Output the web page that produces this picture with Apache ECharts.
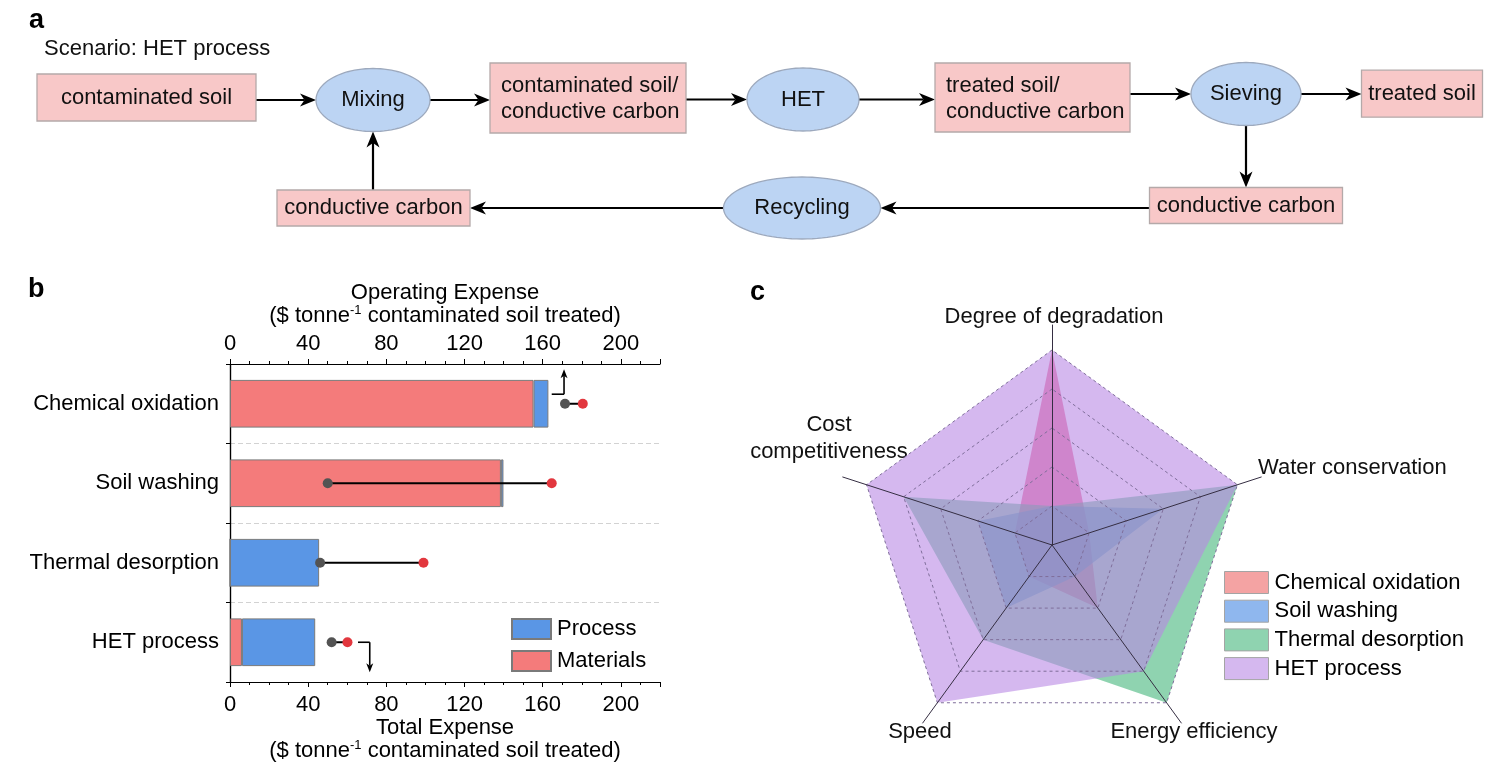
<!DOCTYPE html>
<html><head><meta charset="utf-8">
<script src="https://cdn.jsdelivr.net/npm/echarts@6/dist/echarts.min.js"></script>
<style>html,body{margin:0;padding:0;background:#fff}#c{width:1501px;height:766px}</style>
</head><body><div id="c"></div>
<script>
const FONT = '"Liberation Sans", Arial, Helvetica, sans-serif';

// ---------- Panel a : process flow ----------
const scenarioTitle = 'Scenario: HET process';
const flowLabels = ['contaminated soil', 'Mixing', 'contaminated soil/\nconductive carbon', 'HET',
  'treated soil/\nconductive carbon', 'Sieving', 'treated soil', 'conductive carbon', 'Recycling', 'conductive carbon'];
const flowKinds = ['material', 'step', 'material', 'step', 'material', 'step', 'material', 'material', 'step', 'material'];
const flowLinks = [[0, 1], [1, 2], [2, 3], [3, 4], [4, 5], [5, 6], [5, 7], [7, 8], [8, 9], [9, 1]];
// diagram layout: centre x, centre y, width, height (diagram units)
const flowLayout = [
  [146.5, 97.5, 219, 47], [373, 100, 114, 63], [588, 98, 196, 70], [803, 99.5, 112, 63],
  [1032.5, 97.5, 195, 69], [1246, 94, 110, 63], [1422, 93.7, 121, 47], [1246, 205.5, 193, 36],
  [802, 208, 157, 62], [373.5, 208, 193, 36]
];

// ---------- Panel b : costs ----------
const costCategories = ['Chemical oxidation', 'Soil washing', 'Thermal desorption', 'HET process'];
const materialsCost = [155.3, 138.6, 0, 6.1];
const processCost = [7.6, 1.3, 45.6, 37.5];
const opexLow = [171.4, 50.0, 46.1, 52.0];
const opexHigh = [180.5, 164.6, 99.0, 60.1];
const xTicks = { min: 0, max: 220, interval: 40 };
// off-scale notes: category index, start value, end value
const noteArrows = [[0, 164.6, 170.9], [3, 65.5, 71.5]];

// ---------- Panel c : radar ----------
const radarAxes = ['Degree of degradation', 'Cost competitiveness', 'Speed', 'Energy efficiency', 'Water conservation'];
const radarMax = 5;
const radarNames = ['Chemical oxidation', 'Soil washing', 'Thermal desorption', 'HET process'];
const radarChem = [5, 1, 1, 2, 1];
const radarSoil = [1, 2, 2, 1, 3];
const radarThermal = [1, 4, 3, 5, 5];
const radarHET = [5, 5, 5, 4, 5];

// ---------- styles ----------
const radarBase = ['#E9568C', '#3F7FE0', '#44B67B', '#B989E4'];
const radarOpacity = [0.75, 0.62, 0.6, 0.6];
const radarSwatch = ['#F4A3A3', '#8FB7EE', '#8FD3B0', '#D5B8EF'];
const noteLayout = [[-0.12, -0.434], [0.0, 0.377]]; // horizontal offset, vertical end (fraction of band)

function flowArrow(link) {
  const a = flowLayout[link[0]], b = flowLayout[link[1]];
  const st = flowKinds[link[0]] === 'step' ? a : b;
  const dx = b[0] - a[0], dy = b[1] - a[1];
  if (Math.abs(dx) > Math.abs(dy)) {
    const s = Math.sign(dx);
    return [a[0] + s * a[2] / 2, st[1], b[0] - s * b[2] / 2, st[1]];
  }
  const s = Math.sign(dy);
  return [st[0], a[1] + s * a[3] / 2, st[0], b[1] - s * b[3] / 2];
}

function arrowGroup(p0, p1, L, W, lw) {
  const dx = p1[0] - p0[0], dy = p1[1] - p0[1];
  const len = Math.sqrt(dx * dx + dy * dy);
  const ux = dx / len, uy = dy / len, px = -uy, py = ux;
  const bx = p1[0] - ux * L, by = p1[1] - uy * L;
  const nx = p1[0] - ux * L * 0.72, ny = p1[1] - uy * L * 0.72;
  return [
    { type: 'line', shape: { x1: p0[0], y1: p0[1], x2: nx, y2: ny }, style: { stroke: '#000', lineWidth: lw } },
    { type: 'polygon', shape: { points: [[p1[0], p1[1]], [bx + px * W / 2, by + py * W / 2], [nx, ny], [bx - px * W / 2, by - py * W / 2]] }, style: { fill: '#000' } }
  ];
}

const chart = echarts.init(document.getElementById('c'), null, { renderer: 'canvas' });

const radarSeriesData = [radarChem, radarSoil, radarThermal, radarHET].map((v, i) => ({
  name: radarNames[i], value: v,
  itemStyle: { color: radarBase[i] },
  lineStyle: { width: 0, opacity: 0 },
  areaStyle: { color: radarBase[i], opacity: radarOpacity[i] }
}));

const supRich = {
  n: { fontSize: 22, lineHeight: 23, fontFamily: FONT, color: '#000' },
  s: { fontSize: 13, lineHeight: 23, fontFamily: FONT, color: '#000', verticalAlign: 'top' }
};
const unitName = '{n|($ tonne}{s|-1}{n| contaminated soil treated)}';

const option = {
  animation: false,
  backgroundColor: '#fff',
  textStyle: { fontFamily: FONT },
  grid: [
    { left: 0, right: 0, top: 0, bottom: 0 },
    { left: 230, top: 364, width: 430, height: 318 }
  ],
  xAxis: [
    { gridIndex: 0, type: 'value', min: 0, max: 1501, show: false },
    { gridIndex: 1, type: 'value', position: 'top', min: xTicks.min, max: xTicks.max, interval: xTicks.interval,
      axisLine: { show: true, lineStyle: { color: '#000', width: 1.2 } },
      axisTick: { show: true, inside: false, length: 5, lineStyle: { color: '#000' } },
      minorTick: { show: true, splitNumber: 4, length: 3, lineStyle: { color: '#000' } },
      splitLine: { show: false },
      axisLabel: { fontSize: 22, color: '#000', margin: 9, showMaxLabel: false },
      name: '{n|Operating Expense}\n' + unitName, nameLocation: 'middle', nameGap: 37,
      nameTextStyle: { rich: supRich } },
    { gridIndex: 1, type: 'value', position: 'bottom', min: xTicks.min, max: xTicks.max, interval: xTicks.interval,
      axisLine: { show: true, lineStyle: { color: '#000', width: 1.2 } },
      axisTick: { show: true, inside: false, length: 5, lineStyle: { color: '#000' } },
      minorTick: { show: true, splitNumber: 4, length: 3, lineStyle: { color: '#000' } },
      splitLine: { show: false },
      axisLabel: { fontSize: 22, color: '#000', margin: 12, showMaxLabel: false },
      name: '{n|Total Expense}\n' + unitName, nameLocation: 'middle', nameGap: 33,
      nameTextStyle: { rich: supRich } }
  ],
  yAxis: [
    { gridIndex: 0, type: 'value', min: 0, max: 766, inverse: true, show: false },
    { gridIndex: 1, type: 'category', data: costCategories, inverse: true, position: 'left',
      axisLine: { show: true, lineStyle: { color: '#000', width: 1.2 } },
      axisTick: { show: true, length: 4, lineStyle: { color: '#000' } },
      axisLabel: { fontSize: 22, color: '#000', margin: 11 },
      splitLine: { show: true, lineStyle: { color: '#d2d2d2', type: [5, 3], width: 1 } } },
    { gridIndex: 1, type: 'category', data: costCategories, inverse: true, position: 'right',
      axisLine: { show: true, lineStyle: { color: '#000', width: 1.2 } },
      axisTick: { show: false }, axisLabel: { show: false }, splitLine: { show: false } }
  ],
  radar: [
    { center: [1052, 545], radius: 220, startAngle: 90, shape: 'polygon', splitNumber: 5, z: 3,
      indicator: radarAxes.map(n => ({ name: n, max: radarMax, min: 0 })),
      axisName: { show: false },
      axisLine: { show: true, lineStyle: { color: '#352e42', width: 1 } },
      splitLine: { show: false }, splitArea: { show: false } },
    { center: [1052, 545], radius: 195, startAngle: 90, shape: 'polygon', splitNumber: 5, z: 3,
      indicator: radarAxes.map(n => ({ name: n, max: radarMax, min: 0 })),
      axisName: { show: false },
      axisLine: { show: false },
      splitLine: { show: true, lineStyle: { color: '#7f6e9a', width: 1, type: [3, 3] } },
      splitArea: { show: false } }
  ],
  legend: [
    { orient: 'vertical', left: 511, top: 618, padding: 0, itemWidth: 39, itemHeight: 20, itemGap: 10,
      icon: 'rect', selectedMode: false,
      textStyle: { fontSize: 22, color: '#000', padding: [0, 0, 0, 1] },
      data: ['Process', 'Materials'] },
    { orient: 'vertical', left: 1224, top: 571, padding: 0, itemWidth: 44, itemHeight: 22, itemGap: 5.7,
      icon: 'rect', selectedMode: false,
      textStyle: { fontSize: 22, color: '#000', padding: [0, 0, 0, 1] },
      data: radarNames.map((n, i) => ({ name: n, itemStyle: { color: radarSwatch[i], borderColor: '#a4a4a4', borderWidth: 1, opacity: 1 } })) }
  ],
  graphic: [
    { type: 'text', left: 29, top: 7, style: { text: 'a', font: 'bold 27px ' + FONT, fill: '#000' } },
    { type: 'text', left: 28, top: 276, style: { text: 'b', font: 'bold 27px ' + FONT, fill: '#000' } },
    { type: 'text', left: 750, top: 279, style: { text: 'c', font: 'bold 27px ' + FONT, fill: '#000' } },
    { type: 'text', x: 44, y: 49, style: { text: scenarioTitle, font: '22px ' + FONT, fill: '#111', align: 'left', verticalAlign: 'middle' } },
    { type: 'text', x: 1054, y: 317, style: { text: radarAxes[0], font: '22px ' + FONT, fill: '#111', align: 'center', verticalAlign: 'middle' } },
    { type: 'text', x: 829, y: 438, style: { text: 'Cost\ncompetitiveness', font: '22px ' + FONT, lineHeight: 27, fill: '#111', align: 'center', verticalAlign: 'middle' } },
    { type: 'text', x: 920, y: 732, style: { text: radarAxes[2], font: '22px ' + FONT, fill: '#111', align: 'center', verticalAlign: 'middle' } },
    { type: 'text', x: 1194, y: 732, style: { text: radarAxes[3], font: '22px ' + FONT, fill: '#111', align: 'center', verticalAlign: 'middle' } },
    { type: 'text', x: 1258, y: 468, style: { text: radarAxes[4], font: '22px ' + FONT, fill: '#111', align: 'left', verticalAlign: 'middle' } }
  ],
  series: [
    // flow arrows
    { type: 'custom', xAxisIndex: 0, yAxisIndex: 0, silent: true, clip: false,
      data: flowLinks.map(flowArrow),
      encode: { x: [0, 2], y: [1, 3] },
      renderItem: function (params, api) {
        const p0 = api.coord([api.value(0), api.value(1)]);
        const p1 = api.coord([api.value(2), api.value(3)]);
        return { type: 'group', children: arrowGroup(p0, p1, 16, 13, 2.2) };
      } },
    // flow nodes
    { type: 'custom', xAxisIndex: 0, yAxisIndex: 0, silent: true, clip: false,
      data: flowLayout.map((l, i) => [l[0], l[1], l[2], l[3], i]),
      encode: { x: 0, y: 1 },
      renderItem: function (params, api) {
        const i = api.value(4);
        const c = api.coord([api.value(0), api.value(1)]);
        const s = api.size([api.value(2), api.value(3)]);
        let shape;
        if (flowKinds[i] === 'step') {
          const pts = [];
          for (let k = 0; k < 96; k++) {
            const t = k / 96 * Math.PI * 2;
            pts.push([c[0] + Math.cos(t) * s[0] / 2, c[1] + Math.sin(t) * s[1] / 2]);
          }
          shape = { type: 'polygon', shape: { points: pts }, style: { fill: '#BCD4F3', stroke: '#9DA9BD', lineWidth: 1.3 } };
        } else {
          shape = { type: 'rect', shape: { x: c[0] - s[0] / 2, y: c[1] - s[1] / 2, width: s[0], height: s[1] }, style: { fill: '#F8C8C8', stroke: '#B4A9A9', lineWidth: 1.3 } };
        }
        const multi = flowLabels[i].indexOf('\n') >= 0;
        const text = { type: 'text', style: {
          text: flowLabels[i], x: multi ? c[0] - s[0] / 2 + 11 : c[0], y: c[1] + (multi ? 1 : 0),
          align: multi ? 'left' : 'center', verticalAlign: 'middle', font: '22px ' + FONT, lineHeight: 26, fill: '#111' } };
        return { type: 'group', children: [shape, text] };
      } },
    // cost bars
    { type: 'bar', name: 'Materials', stack: 'total', xAxisIndex: 2, yAxisIndex: 1, barWidth: '60%',
      data: materialsCost, itemStyle: { color: '#F47B7B', borderColor: '#7a7a7a', borderWidth: 1 } },
    { type: 'bar', name: 'Process', stack: 'total', xAxisIndex: 2, yAxisIndex: 1, barWidth: '60%',
      data: processCost, itemStyle: { color: '#5A96E5', borderColor: '#7a7a7a', borderWidth: 1 } },
    // operating expense ranges
    { type: 'custom', name: 'opex', xAxisIndex: 1, yAxisIndex: 1, silent: true, z: 5,
      data: opexLow.map((v, i) => [v, opexHigh[i], i]),
      encode: { x: [0, 1], y: 2 },
      renderItem: function (params, api) {
        const a = api.coord([api.value(0), api.value(2)]);
        const b = api.coord([api.value(1), api.value(2)]);
        return { type: 'group', children: [
          { type: 'line', shape: { x1: a[0], y1: a[1], x2: b[0], y2: b[1] }, style: { stroke: '#000', lineWidth: 2 } },
          { type: 'circle', shape: { cx: a[0], cy: a[1], r: 5 }, style: { fill: '#535353' } },
          { type: 'circle', shape: { cx: b[0], cy: b[1], r: 5 }, style: { fill: '#E2373E' } }
        ] };
      } },
    // off-scale notes
    { type: 'custom', name: 'notes', xAxisIndex: 1, yAxisIndex: 1, silent: true, z: 5,
      data: noteArrows,
      encode: { x: [1, 2], y: 0 },
      renderItem: function (params, api) {
        const idx = params.dataIndex;
        const band = api.size([0, 1])[1];
        const a = api.coord([api.value(1), api.value(0)]);
        const b = api.coord([api.value(2), api.value(0)]);
        const yh = a[1] + band * noteLayout[idx][0];
        const ye = a[1] + band * noteLayout[idx][1];
        return { type: 'group', children: [
          { type: 'line', shape: { x1: a[0], y1: yh, x2: b[0], y2: yh }, style: { stroke: '#000', lineWidth: 1.6 } }
        ].concat(arrowGroup([b[0], yh], [b[0], ye], 9, 7, 1.6)) };
      } },
    // radar
    { type: 'radar', radarIndex: 1, symbol: 'none', z: 2, data: radarSeriesData }
  ]
};
chart.setOption(option);
</script>
</body></html>
